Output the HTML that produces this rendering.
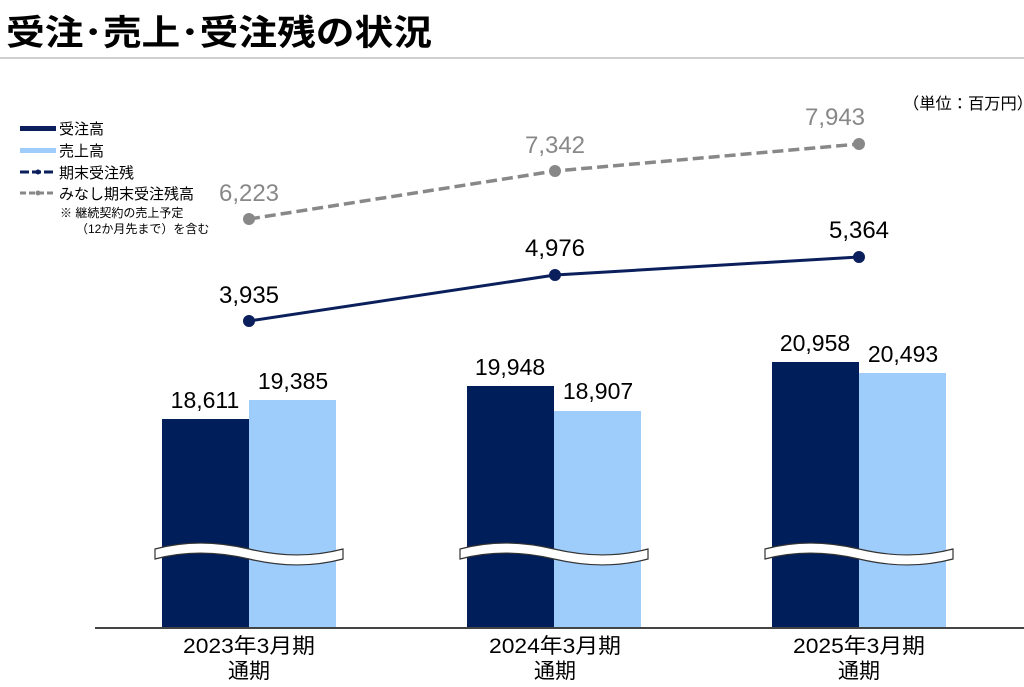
<!DOCTYPE html>
<html><head><meta charset="utf-8"><style>
html,body{margin:0;padding:0;background:#fff;width:1024px;height:687px;overflow:hidden}
svg{display:block}
text{font-family:"Liberation Sans","Noto Sans CJK JP",sans-serif}
.n{font-family:"DejaVu Sans",sans-serif}
</style></head><body>
<svg width="1024" height="687" viewBox="0 0 1024 687" xmlns="http://www.w3.org/2000/svg">
<text x="6" y="45" font-size="35" font-weight="bold" fill="#000" textLength="426" lengthAdjust="spacingAndGlyphs">受注･売上･受注残の状況</text>
<rect x="0" y="57" width="1024" height="2" fill="#d0d0d0"/>

<!-- legend -->
<rect x="20" y="126" width="36" height="5" fill="#0a1f5c"/>
<text x="59" y="134" font-size="15" fill="#000">受注高</text>
<rect x="20" y="148" width="36" height="5" fill="#9fcdfb"/>
<text x="59" y="156" font-size="15" fill="#000">売上高</text>
<line x1="20" y1="172" x2="56" y2="172" stroke="#0a1f5c" stroke-width="3" stroke-dasharray="9,3"/>
<circle cx="38" cy="172" r="2.5" fill="#0a1f5c"/>
<text x="59" y="178" font-size="15" fill="#000">期末受注残</text>
<line x1="20" y1="193" x2="56" y2="193" stroke="#888" stroke-width="3" stroke-dasharray="6,3"/>
<circle cx="38" cy="193" r="2.5" fill="#888"/>
<text x="59" y="199" font-size="15" fill="#000">みなし期末受注残高</text>
<text x="60" y="217" font-size="12" fill="#000">※ 継続契約の売上予定</text>
<text x="76" y="233" font-size="12" fill="#000">（12か月先まで）を含む</text>

<text x="903" y="109" font-size="16" fill="#000" textLength="130" lengthAdjust="spacingAndGlyphs">（単位：百万円）</text>

<!-- bars -->
<g>
<rect x="162" y="419" width="87" height="209" fill="#001e5a"/>
<rect x="249" y="400" width="87" height="228" fill="#9fcdfb"/>
<rect x="467" y="386" width="87" height="242" fill="#001e5a"/>
<rect x="554" y="411" width="87" height="217" fill="#9fcdfb"/>
<rect x="772" y="362" width="87" height="266" fill="#001e5a"/>
<rect x="859" y="373" width="87" height="255" fill="#9fcdfb"/>
</g>
<!-- breaks -->
<g fill="#fff" stroke="#333" stroke-width="1.2">
<path d="M155,549 C185,541 215,541 249,549 C283,557 313,557 343,549 L343,559 C313,567 283,567 249,559 C215,551 185,551 155,559 Z"/>
<path d="M460,549 C490,541 520,541 554,549 C588,557 618,557 648,549 L648,559 C618,567 588,567 554,559 C520,551 490,551 460,559 Z"/>
<path d="M765,549 C795,541 825,541 859,549 C893,557 923,557 953,549 L953,559 C923,567 893,567 859,559 C825,551 795,551 765,559 Z"/>
</g>
<line x1="95" y1="628" x2="1024" y2="628" stroke="#444" stroke-width="2"/>

<!-- bar labels -->
<g class="n" font-size="23" fill="#000" text-anchor="middle">
<text x="205" y="408">18,611</text>
<text x="293" y="389">19,385</text>
<text x="510" y="375">19,948</text>
<text x="598" y="399">18,907</text>
<text x="815" y="351">20,958</text>
<text x="903" y="362">20,493</text>
</g>

<!-- lines -->
<polyline points="249,219 555,171 859,144" fill="none" stroke="#888" stroke-width="3.5" stroke-dasharray="11,5"/>
<g fill="#888"><circle cx="249" cy="219" r="6"/><circle cx="555" cy="171" r="6"/><circle cx="859" cy="144" r="6"/></g>
<polyline points="249,321 555,275 859,257" fill="none" stroke="#0a1f5c" stroke-width="3"/>
<g fill="#0a1f5c"><circle cx="249" cy="321" r="6"/><circle cx="555" cy="275" r="6"/><circle cx="859" cy="257" r="6"/></g>

<g class="n" font-size="24" text-anchor="middle">
<text x="249" y="201" fill="#888">6,223</text>
<text x="555" y="153" fill="#888">7,342</text>
<text x="835" y="125" fill="#888">7,943</text>
<text x="249" y="303" fill="#000">3,935</text>
<text x="555" y="256" fill="#000">4,976</text>
<text x="859" y="238" fill="#000">5,364</text>
</g>

<!-- x labels -->
<g font-size="21" fill="#000" text-anchor="middle">
<text x="249" y="653" textLength="132" lengthAdjust="spacingAndGlyphs">2023年3月期</text>
<text x="249" y="678">通期</text>
<text x="555" y="653" textLength="132" lengthAdjust="spacingAndGlyphs">2024年3月期</text>
<text x="555" y="678">通期</text>
<text x="859" y="653" textLength="132" lengthAdjust="spacingAndGlyphs">2025年3月期</text>
<text x="859" y="678">通期</text>
</g>
</svg>
</body></html>
